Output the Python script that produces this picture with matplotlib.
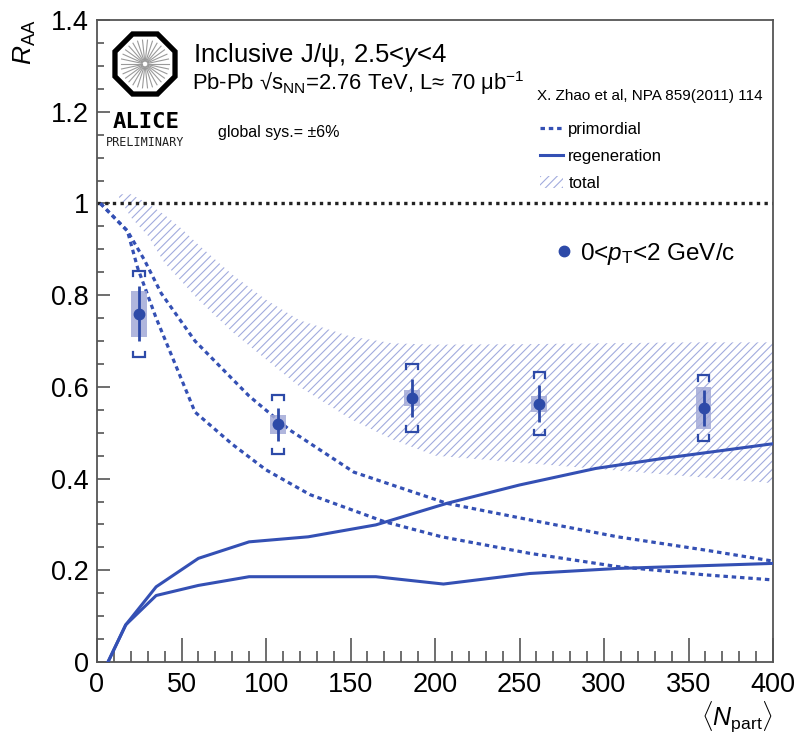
import numpy as np
import matplotlib
matplotlib.use("Agg")
import matplotlib.pyplot as plt
from matplotlib.patches import Polygon
from matplotlib.lines import Line2D

# ---------------- data ----------------
npart = [24.8, 106.9, 186.4, 261.8, 358.9]
raa = [0.759, 0.518, 0.576, 0.563, 0.554]
stat_err = [0.060, 0.035, 0.042, 0.040, 0.039]
sys_corr = [0.050, 0.020, 0.017, 0.017, 0.045]
sys_uncorr = [0.094, 0.065, 0.074, 0.069, 0.071]

prim_up_x = [2, 18, 28, 38, 58, 90, 114, 152, 207, 256, 308, 360, 400]
prim_up_y = [1.0, 0.94, 0.877, 0.804, 0.70, 0.58, 0.506, 0.414, 0.346, 0.31, 0.273, 0.244, 0.22]

prim_lo_x = [2, 18, 24, 35, 58, 80, 100, 126, 170, 204, 256, 308, 360, 400]
prim_lo_y = [1.0, 0.94, 0.86, 0.75, 0.545, 0.475, 0.419, 0.365, 0.306, 0.273, 0.237, 0.208, 0.19, 0.179]

reg_up_x = [6.5, 17, 35, 60, 90, 125, 165, 207, 250, 295, 335, 400]
reg_up_y = [0.0, 0.081, 0.164, 0.226, 0.262, 0.273, 0.299, 0.346, 0.386, 0.422, 0.444, 0.476]

reg_lo_x = [6.5, 17, 35, 60, 90, 125, 165, 205, 256, 308, 400]
reg_lo_y = [0.0, 0.081, 0.145, 0.167, 0.186, 0.186, 0.186, 0.170, 0.193, 0.204, 0.215]

band_x = [12, 20, 30, 40, 50, 60, 80, 100, 120, 150, 175, 200, 250, 300, 350, 400]
band_up = [1.02, 1.02, 1.0, 0.975, 0.945, 0.91, 0.845, 0.79, 0.745, 0.71, 0.695, 0.692, 0.693, 0.695, 0.697, 0.697]
band_lo = [1.02, 0.97, 0.93, 0.87, 0.83, 0.79, 0.72, 0.66, 0.60, 0.53, 0.485, 0.45, 0.435, 0.42, 0.405, 0.39]

x_ticks = [0, 50, 100, 150, 200, 250, 300, 350, 400]
x_tick_labels = ["0", "50", "100", "150", "200", "250", "300", "350", "400"]
y_ticks = [0, 0.2, 0.4, 0.6, 0.8, 1.0, 1.2, 1.4]
y_tick_labels = ["0", "0.2", "0.4", "0.6", "0.8", "1", "1.2", "1.4"]

# ---------------- style ----------------
plt.rcParams["font.family"] = ["Liberation Sans", "DejaVu Sans"]
plt.rcParams["mathtext.fontset"] = "custom"
plt.rcParams["mathtext.rm"] = "Liberation Sans"
plt.rcParams["mathtext.it"] = "Liberation Sans:italic"
plt.rcParams["mathtext.bf"] = "Liberation Sans:bold"
plt.rcParams["hatch.linewidth"] = 0.8

BLUE = "#3450b4"
PT_BLUE = "#2d4aa8"
HATCH = "#a2abde"
BOX = "#a3aad8"
AXC = "#555555"

W, H = 796, 747
fig = plt.figure(figsize=(W / 100, H / 100), dpi=100)
L, R, T, B = 97, 773, 20, 662
ax = fig.add_axes([L / W, 1 - B / H, (R - L) / W, (B - T) / H])
ax.set_xlim(0, 400)
ax.set_ylim(0, 1.4)

# band
band = ax.fill_between(band_x, band_lo, band_up, facecolor="none", edgecolor=HATCH,
                       hatch="////", linewidth=0, label="total", zorder=1)

# primordial
dash = (0, (1.4, 1.2))
l_prim, = ax.plot(prim_up_x, prim_up_y, color=BLUE, lw=2.3, linestyle=dash, label="primordial", zorder=3)
ax.plot(prim_lo_x, prim_lo_y, color=BLUE, lw=2.3, linestyle=dash, zorder=3)
# regeneration
l_reg, = ax.plot(reg_up_x, reg_up_y, color=BLUE, lw=2.2, label="regeneration", zorder=3)
ax.plot(reg_lo_x, reg_lo_y, color=BLUE, lw=2.2, zorder=3)

# unity line
ax.axhline(1.0, color="#222222", lw=2.4, linestyle=(0, (1, 1.3)), zorder=2)

# data: correlated sys boxes
ax.bar(npart, [2 * s for s in sys_corr], bottom=[y - s for y, s in zip(raa, sys_corr)],
       width=9.4, color=BOX, alpha=0.85, linewidth=0, zorder=4)
# brackets
bw, bt = 3.5, 0.012
for x, y, s in zip(npart, raa, sys_uncorr):
    ax.plot([x - bw, x - bw, x + bw, x + bw], [y + s - bt, y + s, y + s, y + s - bt],
            color=PT_BLUE, lw=1.6, zorder=5, solid_joinstyle="miter")
    ax.plot([x - bw, x - bw, x + bw, x + bw], [y - s + bt, y - s, y - s, y - s + bt],
            color=PT_BLUE, lw=1.6, zorder=5, solid_joinstyle="miter")
ax.errorbar(npart, raa, yerr=stat_err, fmt="o", color=PT_BLUE, ms=7.5, elinewidth=2,
            capsize=0, zorder=6)

# axes style
for sp in ax.spines.values():
    sp.set_color(AXC)
    sp.set_linewidth(1.3)
ax.set_xticks(x_ticks)
ax.set_xticklabels(x_tick_labels)
ax.set_yticks(y_ticks)
ax.set_yticklabels(y_tick_labels)
ax.set_xticks(np.arange(0, 401, 10), minor=True)
ax.set_yticks(np.arange(0, 1.401, 0.05), minor=True)
ax.tick_params(axis="x", which="major", direction="in", length=17, width=1.2, color=AXC,
               labelsize=19.5, pad=7)
ax.tick_params(axis="x", which="minor", direction="in", length=8, width=1.2, color=AXC)
ax.tick_params(axis="y", which="major", direction="in", length=9.5, width=1.2, color=AXC,
               labelsize=19.5, pad=6)
ax.tick_params(axis="y", which="minor", direction="in", length=5, width=1.2, color=AXC)

# axis titles
ax.set_xlabel(r"$\langle N_{\rm part}\rangle$", fontsize=18, loc="right")
ax.xaxis.set_label_coords(1.0, -(700 - B) / (B - T))
fig.text(25 / W, 1 - 19 / H, r"$R_{\rm AA}$", rotation=90, ha="center", va="top", fontsize=19)

# texts
def ftxt(x, y, s, **kw):
    fig.text(x / W, 1 - y / H, s, **kw)

ftxt(193, 55, r"Inclusive J/ψ, 2.5<$y$<4", fontsize=18.5, va="center", ha="left")
ftxt(192, 83, r"Pb-Pb √s$_{\rm NN}$=2.76 TeV, L≈ 70 μb$^{-1}$", fontsize=15.8, va="center", ha="left")
ftxt(218, 132, "global sys.= ±6%", fontsize=11.5, va="center", ha="left")
ftxt(537, 96, "X. Zhao et al, NPA 859(2011) 114", fontsize=11, va="center", ha="left")

# legends
leg1 = ax.legend(handles=[l_prim, l_reg, band], loc="upper left",
                 bbox_to_anchor=(540 / W, 1 - 122 / H), bbox_transform=fig.transFigure,
                 frameon=False, fontsize=12, borderpad=0, borderaxespad=0,
                 handlelength=1.4, handletextpad=0.3, labelspacing=0.72)
ax.add_artist(leg1)
pt_handle = Line2D([], [], marker="o", color=PT_BLUE, linestyle="none", ms=7.5)
ax.legend(handles=[pt_handle], labels=[r"0<$p_{\rm T}$<2 GeV/c"], loc="center left",
          bbox_to_anchor=(557 / W, 1 - 254 / H), bbox_transform=fig.transFigure,
          frameon=False, fontsize=17.5, borderpad=0, borderaxespad=0,
          handlelength=0.6, handletextpad=0.33)

# ALICE logo
cx, cy, rad = 145, 64, 32.5
ang = np.deg2rad(22.5 + 45 * np.arange(8))
verts = [((cx + rad * np.cos(a)) / W, 1 - (cy + rad * np.sin(a)) / H) for a in ang]
fig.patches.append(Polygon(verts, closed=True, fill=False, edgecolor="black", lw=3.8,
                           transform=fig.transFigure, joinstyle="miter"))
for a in np.deg2rad(np.arange(0, 360, 12)):
    fig.lines.append(Line2D([(cx + 3 * np.cos(a)) / W, (cx + 24 * np.cos(a)) / W],
                            [1 - (cy + 3 * np.sin(a)) / H, 1 - (cy + 24 * np.sin(a)) / H],
                            color="#9a9a9a", lw=0.8, transform=fig.transFigure))
ftxt(146, 122, "ALICE", fontsize=16, family="DejaVu Sans Mono", weight="bold",
     ha="center", va="center")
ftxt(145, 143, "PRELIMINARY", fontsize=8.5, family="DejaVu Sans Mono",
     ha="center", va="center", color="#222222")

fig.savefig("out.png", dpi=100)
